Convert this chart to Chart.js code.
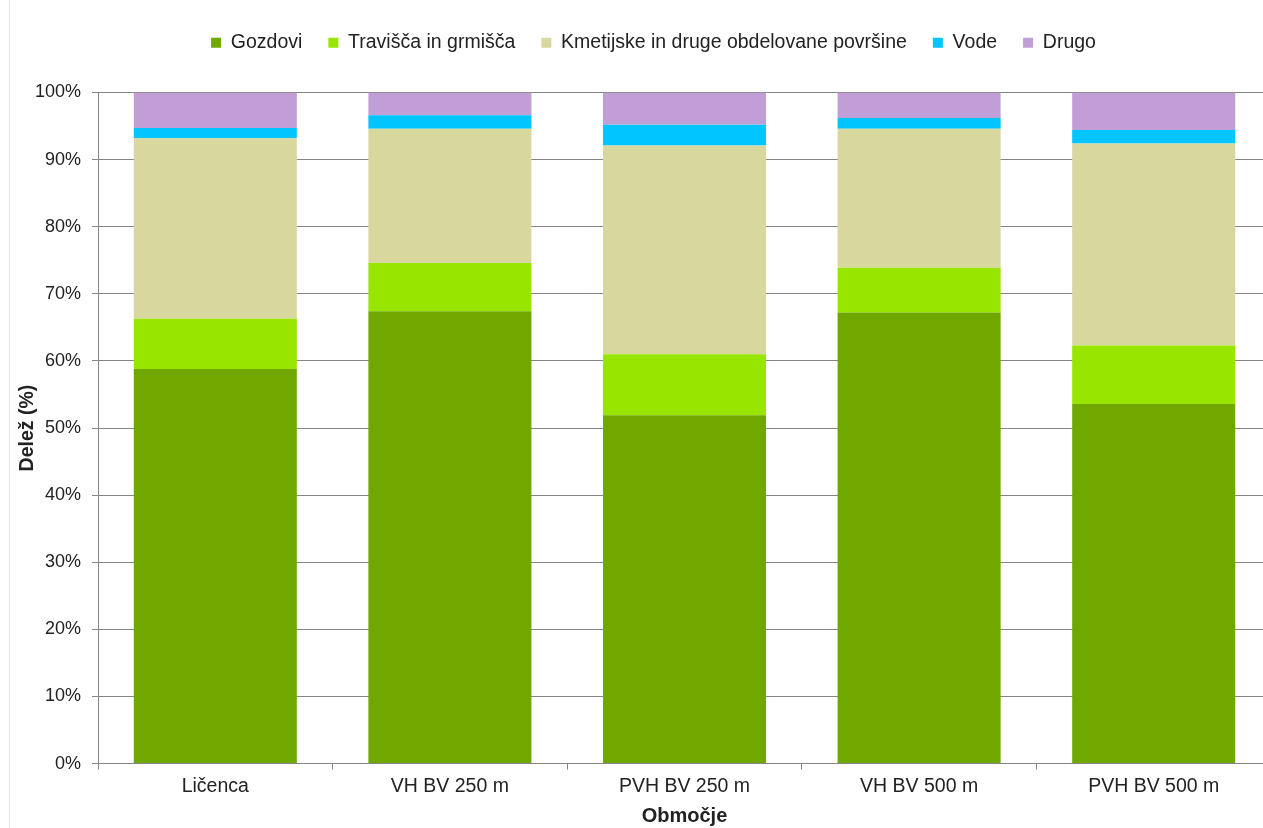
<!DOCTYPE html>
<html>
<head>
<meta charset="utf-8">
<script src="https://cdn.jsdelivr.net/npm/chart.js@4.4.0/dist/chart.umd.min.js"></script>
<style>
  html, body { margin: 0; padding: 0; background: #fff; overflow: hidden; }
  #wrap { position: relative; width: 1271px; height: 828px; }
  #edge { position: absolute; left: 9px; top: 0; width: 1px; height: 828px; background: #e6e6e6; }
</style>
</head>
<body>
<div id="wrap">
  <canvas id="chart" width="1271" height="828"></canvas>
  <div id="edge"></div>
</div>
<script>
// Deleži rabe tal po območjih (%)
const obmocja = ["Ličenca", "VH BV 250 m", "PVH BV 250 m", "VH BV 500 m", "PVH BV 500 m"];
const gozdovi = [58.8, 67.4, 51.9, 67.2, 53.6];
const travisca = [7.5, 7.2, 9.1, 6.7, 8.7];
const kmetijske = [26.9, 20.0, 31.1, 20.7, 30.1];
const vode = [1.5, 2.0, 3.1, 1.6, 2.0];
const drugo = [5.3, 3.4, 4.8, 3.8, 5.6];
const yTicks = [0, 10, 20, 30, 40, 50, 60, 70, 80, 90, 100];

const fontFamily = "'Liberation Sans', Arial, sans-serif";
const axisColor = "#868686";

const data = {
  labels: obmocja,
  datasets: [
    { label: "Gozdovi", data: gozdovi, backgroundColor: "#70a800" },
    { label: "Travišča in grmišča", data: travisca, backgroundColor: "#98e600" },
    { label: "Kmetijske in druge obdelovane površine", data: kmetijske, backgroundColor: "#d7d79e" },
    { label: "Vode", data: vode, backgroundColor: "#00c5ff" },
    { label: "Drugo", data: drugo, backgroundColor: "#c29ed7" }
  ]
};

// extra space under the legend, and the legend nudged right
const legendGap = {
  id: "legendGap",
  beforeInit: function(chart) {
    const fit = chart.legend.fit;
    chart.legend.fit = function() {
      fit.bind(chart.legend)();
      this.height += 30;
    };
  },
  afterLayout: function(chart) {
    chart.legend.left += 10;
    chart.legend.right += 10;
  }
};

new Chart(document.getElementById("chart"), {
  type: "bar",
  data: data,
  plugins: [legendGap],
  options: {
    responsive: false,
    animation: false,
    categoryPercentage: 1.0,
    barPercentage: 0.695,
    layout: { padding: { left: 16, top: 7, right: 0, bottom: 0 } },
    plugins: {
      tooltip: { enabled: false },
      legend: {
        position: "top",
        labels: {
          boxWidth: 10,
          boxHeight: 10,
          padding: 26,
          color: "#222",
          font: { family: fontFamily, size: 19.5 }
        }
      }
    },
    scales: {
      x: {
        stacked: true,
        grid: { offset: true, drawOnChartArea: false, tickLength: 6, color: axisColor },
        border: { color: axisColor },
        ticks: { color: "#222", padding: 5, font: { family: fontFamily, size: 19.5 } },
        title: {
          display: true,
          text: "Območje",
          color: "#222",
          padding: { top: 1, bottom: 0 },
          font: { family: fontFamily, size: 20, weight: "bold" }
        }
      },
      y: {
        stacked: true,
        min: 0,
        max: 100,
        afterBuildTicks: function(axis) {
          axis.ticks = yTicks.map(function(v) { return { value: v }; });
        },
        afterFit: function(axis) {
          axis.width = 82;
        },
        grid: { color: axisColor, tickLength: 6 },
        border: { color: axisColor },
        ticks: {
          color: "#222",
          padding: 11,
          font: { family: fontFamily, size: 18 },
          callback: function(v) { return v + "%"; }
        },
        title: {
          display: true,
          text: "Delež (%)",
          color: "#222",
          padding: { top: 0, bottom: 0 },
          font: { family: fontFamily, size: 19.5, weight: "bold" }
        }
      }
    }
  }
});
</script>
</body>
</html>
